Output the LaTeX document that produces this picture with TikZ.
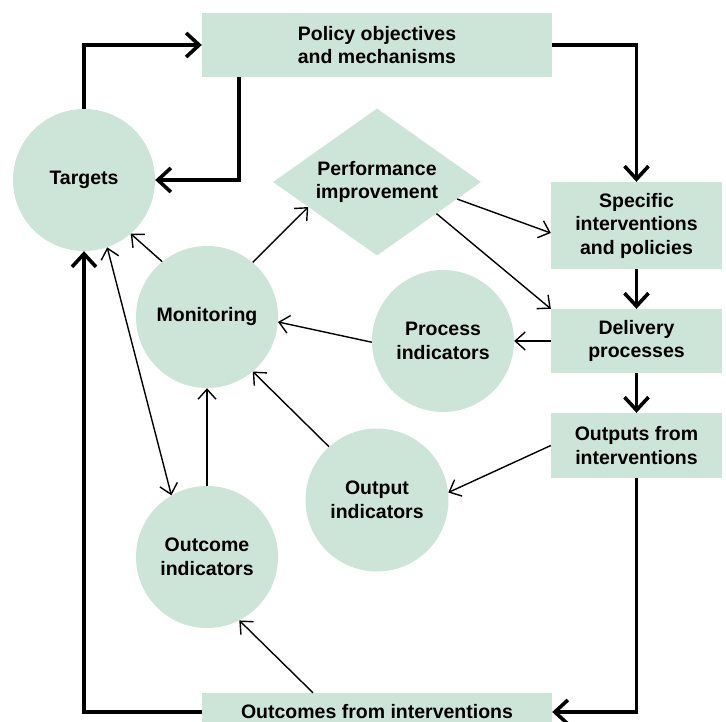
\documentclass[tikz,border=0pt]{standalone}
\usepackage{fontspec}
\setmainfont{Liberation Sans}
\usetikzlibrary{arrows.meta,shapes.geometric,calc}
\definecolor{boxgreen}{RGB}{205,229,216}
\begin{document}
\begin{tikzpicture}[x=1pt,y=-1pt,
  every node/.style={font=\fontsize{19.5}{23.5}\selectfont\bfseries, align=center, inner sep=0pt},
  rectbox/.style={rectangle, fill=boxgreen},
  roundnode/.style={circle, fill=boxgreen, minimum size=142pt},
  thinarrow/.style={line width=1.4pt, -{Straight Barb[length=10pt,width=18pt]}},
  thinboth/.style={line width=1.4pt, {Straight Barb[length=10pt,width=18pt]}-{Straight Barb[length=10pt,width=18pt]}},
  thickarrow/.style={line width=3.6pt, -{Straight Barb[length=13pt,width=24pt]}}
]
\useasboundingbox (0,0) rectangle (726,722);

% nodes
\node[rectbox, minimum width=350pt, minimum height=64pt] (policy) at (377,45) {Policy objectives\\and mechanisms};
\node[roundnode] (targets) at (84,180) {Targets};
\node[diamond, fill=boxgreen, aspect=1.415, minimum width=208pt, minimum height=147pt] (perf) at (377,182) {Performance\\improvement};
\node[rectbox, minimum width=171pt, minimum height=87pt] (spec) at (636.5,225.5) {Specific\\interventions\\and policies};
\node[roundnode] (mon) at (207,317) {Monitoring};
\node[roundnode] (proc) at (443,341) {Process\\indicators};
\node[rectbox, minimum width=171pt, minimum height=64pt] (deliv) at (636.5,341) {Delivery\\processes};
\node[rectbox, minimum width=171pt, minimum height=65pt] (outp) at (636.5,445.5) {Outputs from\\interventions};
\node[roundnode, minimum size=143pt] (outind) at (377,500) {Output\\indicators};
\node[roundnode] (outcind) at (207,557) {Outcome\\indicators};
\node[rectbox, minimum width=350pt, minimum height=38pt] (outc) at (377,712) {Outcomes from interventions};

% thick loop connectors
\draw[thickarrow] (targets.north) |- (policy.west);
\draw[thickarrow] (policy.east) -| (spec.north);
\draw[thickarrow] ([xshift=-138pt]policy.south) |- (targets.east);
\draw[thickarrow] (spec.south) -- (deliv.north);
\draw[thickarrow] (deliv.south) -- (outp.north);
\draw[thickarrow] (outp.south) |- (outc.east);
\draw[thickarrow] (outc.west) -| (targets.south);

% thin connectors
\draw[thinarrow] (mon.129) -- (targets.311);
\draw[thinarrow] (mon.50) -- (perf.200);
\draw[thinarrow] (perf.348) -- (spec.185);
\draw[thinarrow] (perf.332) -- (deliv.north west);
\draw[thinarrow] (deliv.west) -- (proc.east);
\draw[thinarrow] (proc.181) -- (mon.356);
\draw[thinarrow] (outp.west) -- (outind.6);
\draw[thinarrow] (outind.132) -- (mon.310);
\draw[thinarrow] (outcind.north) -- (mon.south);
\draw[thinboth] (targets.289) -- (outcind.120);
\draw[thinarrow] ([xshift=-64pt]outc.north) -- (outcind.297);
\end{tikzpicture}
\end{document}
